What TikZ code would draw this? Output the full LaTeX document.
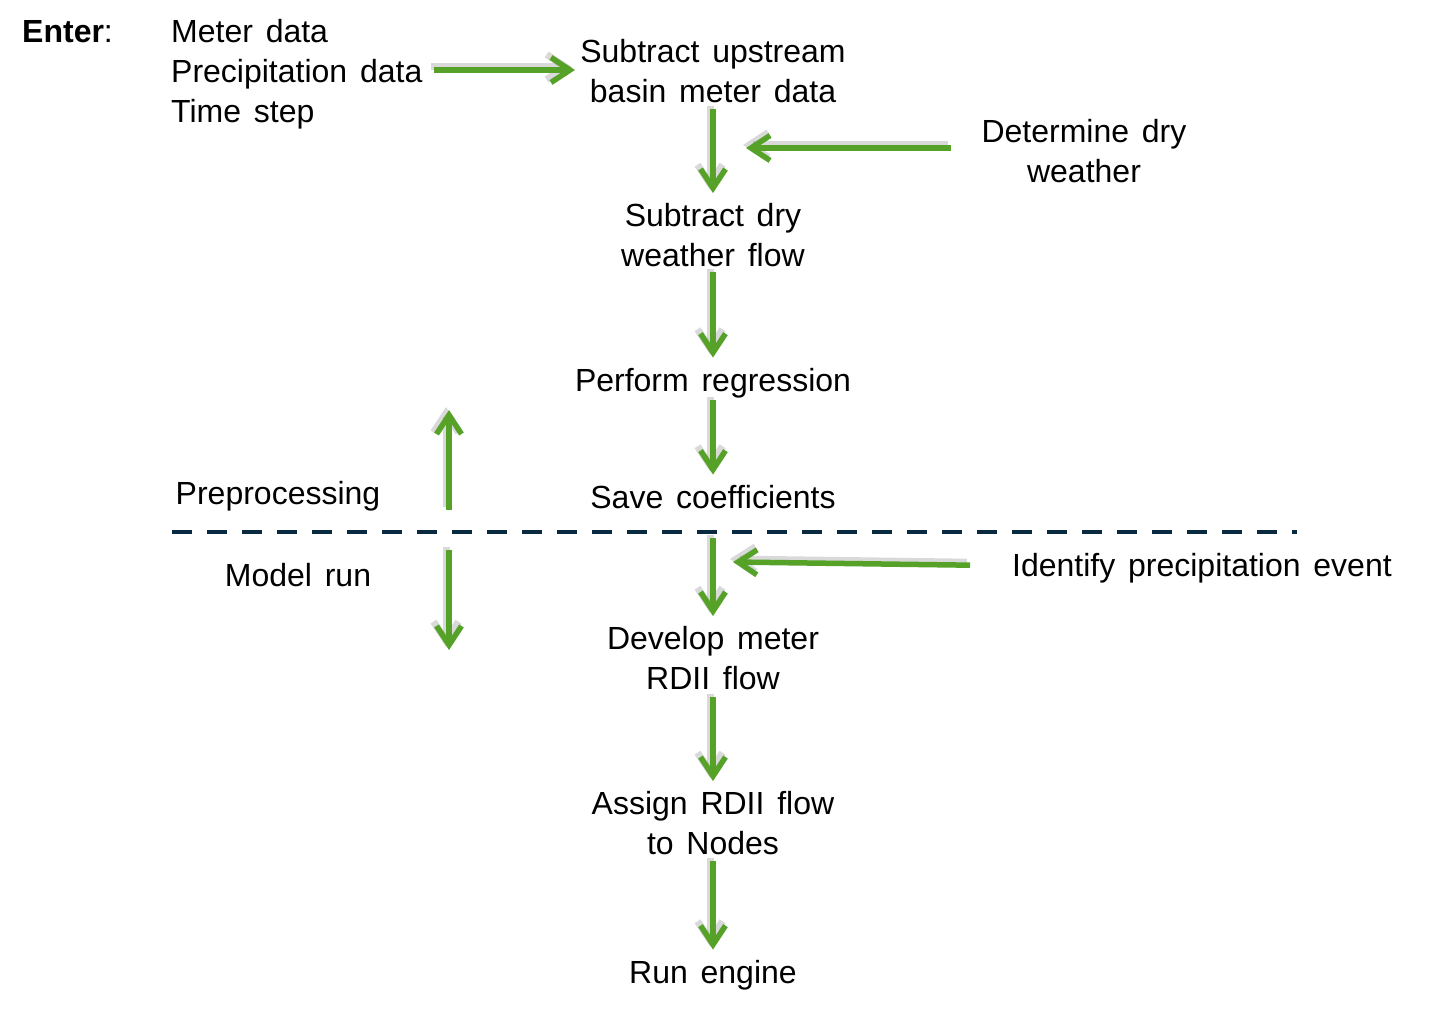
\documentclass[tikz,border=0pt]{standalone}
\usepackage{fontspec}
\setmainfont{Liberation Sans}
\usetikzlibrary{arrows.meta, positioning}
\definecolor{flowgreen}{RGB}{86,162,40}
\definecolor{splitblue}{RGB}{10,42,66}
\newcommand{\stagefont}{\fontsize{32}{40}\selectfont\spaceskip=0.4em plus 0pt minus 0pt\relax}
\tikzset{
	stagetext/.style={font=\stagefont, align=center, inner sep=2pt},
	flow/.style={line width=5.5pt, draw=flowgreen, -{Straight Barb[length=19pt, width=25pt, line width=0pt 1]},
		preaction={draw=black!50, opacity=0.3, line width=7pt, transform canvas={shift={(-3pt,3pt)}}}},
	split/.style={line width=4.5pt, draw=splitblue, dash pattern=on 20pt off 15pt}
}

\begin{document}
\begin{tikzpicture}[x=1pt, y=-1pt]
		\useasboundingbox (0,0) rectangle (1433,1011);
		
		% Inputs
		\node (enter) [stagetext, anchor=base west, inner sep=0pt] at (22,43) {\textbf{Enter}:};
		\node (inputs) [stagetext, align=left, anchor=west] at (169,74) {Meter data\\Precipitation data\\Time step};
		
		% Preprocessing steps
		\node (upstream) [stagetext] at (713,71) {Subtract upstream\\basin meter data};
		\node (dryflow) [stagetext] at (713,235) {Subtract dry\\weather flow};
		\node (regress) [stagetext, anchor=base] at (713,391) {Perform regression};
		\node (coeff) [stagetext, anchor=base] at (713,508) {Save coefficients};
		\node (dryweather) [stagetext] at (1084,151) {Determine dry\\weather};
		
		% Model run steps
		\node (develop) [stagetext] at (713,658) {Develop meter\\RDII flow};
		\node (assign) [stagetext] at (713,823) {Assign RDII flow\\to Nodes};
		\node (engine) [stagetext, anchor=base] at (713,983) {Run engine};
		\node (event) [stagetext, anchor=base] at (1202,576) {Identify precipitation event};
		
		% Phase labels
		\node (preproc) [stagetext, anchor=base] at (278,504) {Preprocessing};
		\node (modelrun) [stagetext, anchor=base] at (298,586) {Model run};
		
		\coordinate (inmerge) at (575,70);
		\coordinate (drymerge) at (746,148);
		\coordinate (eventmerge) at (733,562);
		\coordinate (uptail) at (449,510);
		\coordinate (uphead) at (449,410);
		\coordinate (downtail) at (449,550);
		\coordinate (downhead) at (449,650);
		\coordinate (splitleft) at (172,532);
		\coordinate (splitright) at (1297,532);
		\coordinate (coeffout) at (713,538);
		
		% Separator
		\draw [split] (splitleft) -- (splitright);
		
		% Arrows
		\draw [flow, shorten <=9pt] (inputs.east |- inmerge) -- (inmerge);
		\draw [flow, shorten <=4pt, shorten >=8pt] (upstream) -- (dryflow);
		\draw [flow, shorten <=28pt] (dryweather.west |- drymerge) -- (drymerge);
		\draw [flow, shorten <=3pt, shorten >=8pt] (dryflow) -- (regress);
		\draw [flow, shorten >=8pt] (regress) -- (coeff);
		\draw [flow] (uptail) -- (uphead);
		\draw [flow] (downtail) -- (downhead);
		\draw [flow, shorten >=8pt] (coeffout) -- (develop);
		\draw [flow, shorten <=40pt] ([yshift=2pt]event.west) -- (eventmerge);
		\draw [flow, shorten <=5pt, shorten >=8pt] (develop) -- (assign);
		\draw [flow, shorten <=4pt, shorten >=8pt] (assign) -- (engine);
		
	\end{tikzpicture}
\end{document}
